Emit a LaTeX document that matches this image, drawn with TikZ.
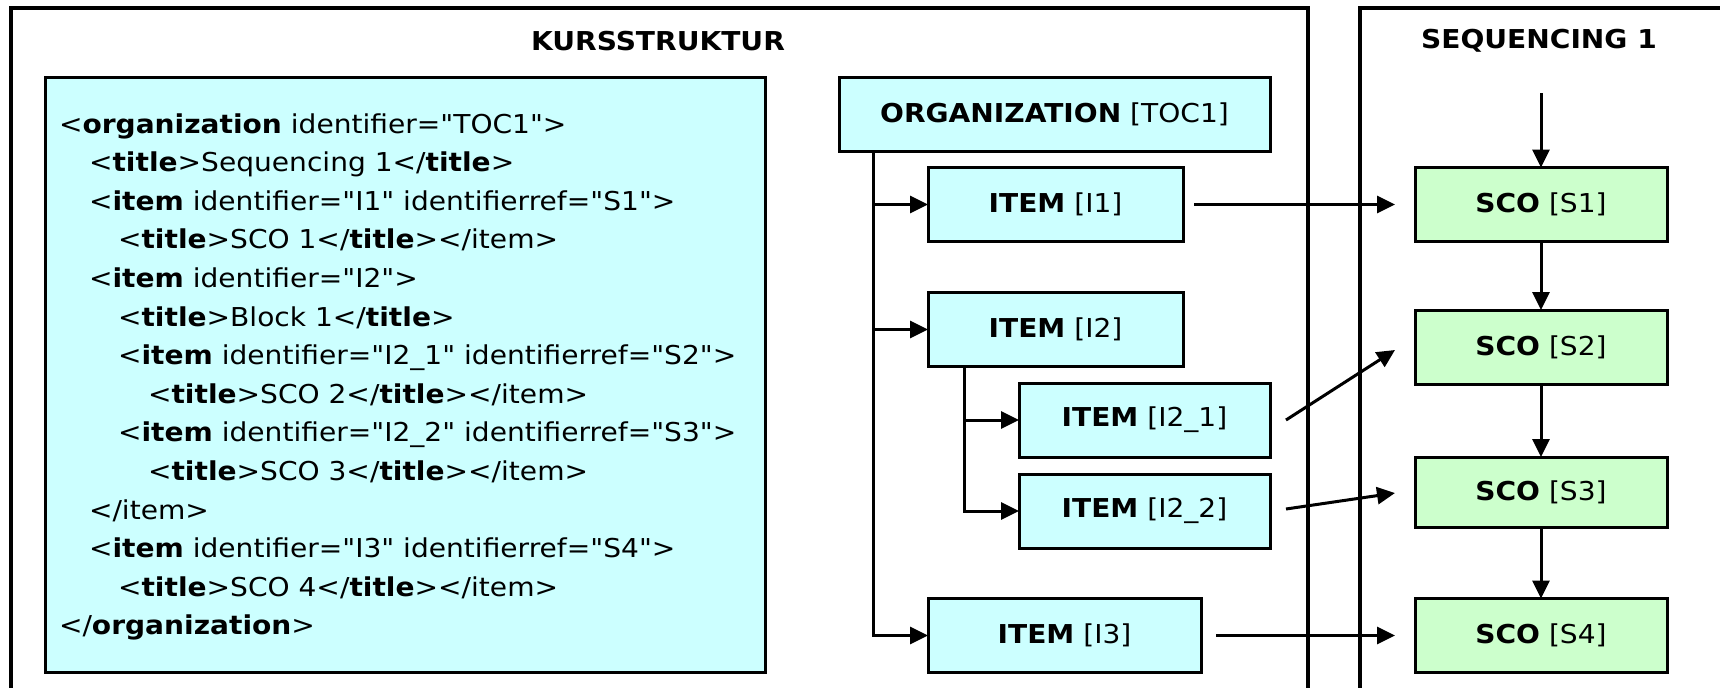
\documentclass[tikz,border=0pt]{standalone}
\usepackage{fontspec}
\setmainfont[FakeStretch=1.08, Ligatures=TeXOff]{DejaVu Sans}
\usetikzlibrary{arrows.meta,calc}
\definecolor{cyanbox}{HTML}{CCFFFF}
\definecolor{greenbox}{HTML}{CCFFCC}
\newcommand{\tg}[1]{\textbf{#1}}
\begin{document}
\begin{tikzpicture}[x=0.5pt,y=-0.5pt,
  every node/.style={font=\fontsize{13}{15}\selectfont, inner sep=0pt, outer sep=0pt},
  frame/.style={line width=2pt},
  cbox/.style={draw, line width=1.5pt, fill=cyanbox, minimum height=37pt},
  gbox/.style={draw, line width=1.5pt, fill=greenbox, minimum width=126pt, minimum height=37pt},
  conn/.style={line width=1.5pt, -{Triangle[length=9pt,width=8.5pt]}},
  codeline/.style={anchor=base west},
  ttl/.style={font=\fontsize{13}{15}\selectfont\bfseries}]
\useasboundingbox (0,0) rectangle (1720,687);
% frames
\draw[frame] (11,700) -- (11,8) -- (1308,8) -- (1308,700);
\draw[frame] (1360,700) -- (1360,8) -- (1730,8);
\node[ttl] (kurs) at (658,41) {KURSSTRUKTUR};
\node[ttl] (seq) at (1539,41) {SEQUENCING 1};
% code box
\node[draw, line width=1.5pt, fill=cyanbox, minimum width=360pt, minimum height=297.5pt] (code) at (405,374.5) {};
\node[codeline] (l1) at (59,133) {<\tg{organization} identifier="TOC1">};
\node[codeline] (l2) at (89,171.6) {<\tg{title}>Sequencing 1</\tg{title}>};
\node[codeline] (l3) at (89,210.2) {<\tg{item} identifier="I1" identifierref="S1">};
\node[codeline] (l4) at (118,248.8) {<\tg{title}>SCO 1</\tg{title}></item>};
\node[codeline] (l5) at (89,287.4) {<\tg{item} identifier="I2">};
\node[codeline] (l6) at (118,326) {<\tg{title}>Block 1</\tg{title}>};
\node[codeline] (l7) at (118,364.6) {<\tg{item} identifier="I2\_1" identifierref="S2">};
\node[codeline] (l8) at (148,403.2) {<\tg{title}>SCO 2</\tg{title}></item>};
\node[codeline] (l9) at (118,441.8) {<\tg{item} identifier="I2\_2" identifierref="S3">};
\node[codeline] (l10) at (148,480.4) {<\tg{title}>SCO 3</\tg{title}></item>};
\node[codeline] (l11) at (89,519) {</item>};
\node[codeline] (l12) at (89,557.6) {<\tg{item} identifier="I3" identifierref="S4">};
\node[codeline] (l13) at (118,596.2) {<\tg{title}>SCO 4</\tg{title}></item>};
\node[codeline] (l14) at (59,634.8) {</\tg{organization}>};
% structure boxes
\node[cbox, minimum width=215.5pt] (org) at (1054.5,114.5) {\textbf{ORGANIZATION} [TOC1]};
\node[cbox, minimum width=127.5pt] (i1) at (1055.5,204.5) {\textbf{ITEM} [I1]};
\node[cbox, minimum width=127.5pt] (i2) at (1055.5,329.5) {\textbf{ITEM} [I2]};
\node[cbox, minimum width=125.5pt] (i21) at (1144.5,420) {\textbf{ITEM} [I2\_1]};
\node[cbox, minimum width=125.5pt] (i22) at (1144.5,511) {\textbf{ITEM} [I2\_2]};
\node[cbox, minimum width=136.5pt] (i3) at (1064.5,635.5) {\textbf{ITEM} [I3]};
% sequencing boxes
\node[gbox] (s1) at (1541,204.5) {\textbf{SCO} [S1]};
\node[gbox] (s2) at (1541,347) {\textbf{SCO} [S2]};
\node[gbox, minimum height=35pt] (s3) at (1541,492) {\textbf{SCO} [S3]};
\node[gbox] (s4) at (1541,635.5) {\textbf{SCO} [S4]};
% tree connectors
\coordinate (trunk) at (873,0);
\coordinate (trunkb) at (964,0);
\draw[conn] (org.south -| trunk) |- (i3.west);
\draw[conn] (trunk |- i1.west) -- (i1.west);
\draw[conn] (trunk |- i2.west) -- (i2.west);
\draw[conn] (i2.south -| trunkb) |- (i22.west);
\draw[conn] (trunkb |- i21.west) -- (i21.west);
% mapping connectors
\draw[conn] ($(i1.east)+(11,0)$) -- ($(s1.west)+(-20,0)$);
\draw[conn] ($(i21.east)+(16,0)$) -- ($(s2.west)+(-20,3)$);
\draw[conn] ($(i22.east)+(16,-2)$) -- ($(s3.west)+(-20,1)$);
\draw[conn] ($(i3.east)+(15,0)$) -- ($(s4.west)+(-20,0)$);
% sequence connectors
\coordinate (start) at (1541,93);
\draw[conn] (start) -- (s1.north);
\draw[conn] (s1.south) -- (s2.north);
\draw[conn] (s2.south) -- (s3.north);
\draw[conn] (s3.south) -- (s4.north);
\end{tikzpicture}
\end{document}
